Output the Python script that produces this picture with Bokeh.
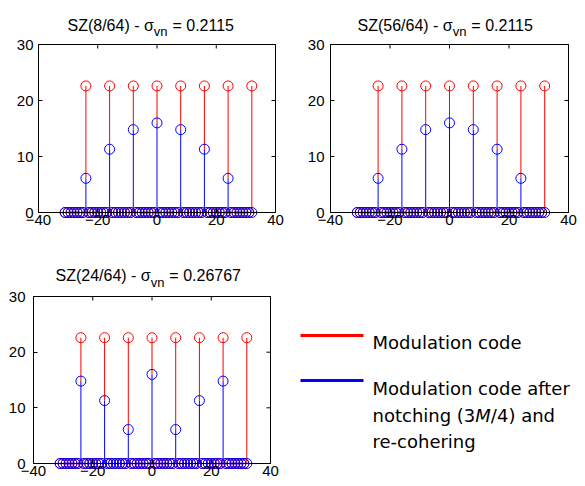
from bokeh.plotting import figure
from bokeh.models import Range1d, LinearAxis, FixedTicker, Label
from bokeh.layouts import row, column
from bokeh.embed import file_html
from bokeh.resources import INLINE

# ---------------- data ----------------
sample_index = list(range(-31, 33))            # sample number n
code_positions = [-24, -16, -8, 0, 8, 16, 24, 32]
code_level = [22.6, 22.6, 22.6, 22.6, 22.6, 22.6, 22.6, 22.6]
notched_8_64 = [6.1, 11.3, 14.8, 16.0, 14.8, 11.3, 6.1, 0.0]
notched_56_64 = [6.1, 11.3, 14.8, 16.0, 14.8, 11.3, 6.1, 0.0]
notched_24_64 = [14.8, 11.3, 6.1, 16.0, 6.1, 11.3, 14.8, 0.0]
title_parts = [
    ("SZ(8/64) - σ", "vn", "= 0.2115"),
    ("SZ(56/64) - σ", "vn", "= 0.2115"),
    ("SZ(24/64) - σ", "vn", "= 0.26767"),
]
x_limits = (-40, 40)
y_limits = (0, 30)
x_ticks = [-40, -20, 0, 20, 40]
y_ticks = [0, 10, 20, 30]
legend_first = "Modulation code"
legend_second = ["Modulation code after", ("notching (3", "M", "/4) and"), "re-cohering"]

RED = "#ff0000"
BLUE = "#0000ff"
TICK_FONT = "Liberation Sans"

# Arial/Liberation Sans advance widths (em) for title layout
ADV = {"S": .667, "Z": .611, "(": .333, ")": .333, "/": .278, " ": .278, "-": .333,
       "=": .584, ".": .278, "v": .5, "n": .556, "σ": .58}


def text_width(s, size):
    return sum(ADV.get(c, .556) for c in s) * size


def full_series(values):
    m = dict(zip(code_positions, values))
    return [m.get(n, 0.0) for n in sample_index]


def style_axis(ax, ticks, standoff):
    ax.ticker = FixedTicker(ticks=ticks)
    ax.major_tick_in = 4
    ax.major_tick_out = 0
    ax.minor_tick_in = 0
    ax.minor_tick_out = 0
    ax.axis_line_color = "black"
    ax.axis_line_width = 1
    ax.major_tick_line_color = "black"
    ax.major_label_text_color = "black"
    ax.major_label_text_font = TICK_FONT
    ax.major_label_text_font_size = "15px"
    ax.major_label_standoff = standoff


def make_panel(parts, notched, W, H, box, title_dx, title_dy, sub_dy, ylab_standoff):
    # box = (left, right, top, bottom) of the axes box, in pixels inside the figure
    L, R, T, B = box
    x0, x1 = x_limits
    y0, y1 = y_limits
    ppx = (R - L) / (x1 - x0)
    ppy = (B - T) / (y1 - y0)
    xr = Range1d(x0 - L / ppx, x1 + (W - R) / ppx)
    yr = Range1d(y0 - (H - B) / ppy, y1 + T / ppy)
    p = figure(width=W, height=H, x_range=xr, y_range=yr,
               output_backend="svg", toolbar_location=None,
               x_axis_location=None, y_axis_location=None,
               min_border=0, min_border_left=0, min_border_right=0,
               min_border_top=0, min_border_bottom=0)
    p.xgrid.visible = False
    p.ygrid.visible = False
    p.outline_line_color = None
    p.background_fill_color = "white"
    p.border_fill_color = "white"

    # box axes: bottom and left with labels, top and right edges with inward ticks
    xb = LinearAxis(fixed_location=y0, bounds=(x0, x1))
    style_axis(xb, x_ticks, 2)
    p.add_layout(xb, "below")
    yl = LinearAxis(fixed_location=x0, bounds=(y0, y1))
    style_axis(yl, y_ticks, ylab_standoff)
    p.add_layout(yl, "left")

    tick_len = 4
    p.segment(x0=[x0], y0=[y1], x1=[x1], y1=[y1], line_color="black", line_width=1)
    p.segment(x0=[x1], y0=[y0], x1=[x1], y1=[y1], line_color="black", line_width=1)
    p.segment(x0=x_ticks, y0=[y1] * len(x_ticks), x1=x_ticks,
              y1=[y1 - tick_len / ppy] * len(x_ticks), line_color="black", line_width=1)
    p.segment(x0=[x1] * len(y_ticks), y0=y_ticks, x1=[x1 - tick_len / ppx] * len(y_ticks),
              y1=y_ticks, line_color="black", line_width=1)

    # stems
    red = full_series(code_level)
    blue = full_series(notched)
    zeros = [0] * len(sample_index)
    p.segment(x0=sample_index, y0=blue, x1=sample_index, y1=red, line_color=RED, line_width=1)
    p.scatter(sample_index, red, marker="circle", size=10, fill_color=None,
              line_color=RED, line_width=1)
    p.segment(x0=sample_index, y0=zeros, x1=sample_index, y1=blue, line_color=BLUE, line_width=1)
    p.scatter(sample_index, blue, marker="circle", size=10, fill_color=None,
              line_color=BLUE, line_width=1)

    # title with subscript
    main, sub, rest = parts
    w_main = text_width(main, 16)
    w_sub = text_width(sub, 13)
    common = dict(x=x0, y=y1, text_font=TICK_FONT, text_color="black",
                  text_font_style="normal", text_baseline="alphabetic", text_align="left")
    p.add_layout(Label(text=main, x_offset=title_dx, y_offset=title_dy, text_font_size="16px", **common))
    p.add_layout(Label(text=sub, x_offset=title_dx + w_main + 0.5, y_offset=sub_dy,
                       text_font_size="13px", **common))
    p.add_layout(Label(text=rest, x_offset=title_dx + w_main + w_sub + 5.5, y_offset=title_dy,
                       text_font_size="16px", **common))
    return p


p1 = make_panel(title_parts[0], notched_8_64, 290, 240, (38, 275, 44, 212),
                title_dx=29, title_dy=19, sub_dy=13, ylab_standoff=5)
p2 = make_panel(title_parts[1], notched_56_64, 294, 240, (40, 278, 44, 212),
                title_dx=27, title_dy=19, sub_dy=13, ylab_standoff=6)
p3 = make_panel(title_parts[2], notched_24_64, 290, 244, (33, 270, 56, 223),
                title_dx=22, title_dy=21, sub_dy=14, ylab_standoff=8)

# ---------------- legend panel ----------------
LW, LH = 294, 244
lg = figure(width=LW, height=LH, x_range=Range1d(0, LW), y_range=Range1d(LH, 0),
            output_backend="svg", toolbar_location=None,
            x_axis_location=None, y_axis_location=None,
            min_border=0, min_border_left=0, min_border_right=0,
            min_border_top=0, min_border_bottom=0)
lg.xgrid.visible = False
lg.ygrid.visible = False
lg.outline_line_color = None
lg.background_fill_color = "white"
lg.border_fill_color = "white"

lg.segment(x0=[10], y0=[95], x1=[73], y1=[95], line_color=RED, line_width=3)
lg.segment(x0=[10], y0=[140], x1=[73], y1=[140], line_color=BLUE, line_width=3)

LFONT = "DejaVu Sans"
lcommon = dict(text_font=LFONT, text_font_size="18px", text_color="black",
               text_baseline="alphabetic", text_align="left")
lg.add_layout(Label(x=82, y=102, text=legend_first, **lcommon))
lg.add_layout(Label(x=82, y=148, text=legend_second[0], **lcommon))
a, m, b = legend_second[1]
w_a = 5.713 * 18
lg.add_layout(Label(x=82, y=175, text=a, **lcommon))
lg.add_layout(Label(x=82 + w_a, y=175, text=m, text_font_style="italic", **lcommon))
lg.add_layout(Label(x=82 + w_a + 0.863 * 18, y=175, text=b, **lcommon))
lg.add_layout(Label(x=82, y=201, text=legend_second[2], **lcommon))

layout = column(row(p1, p2), row(p3, lg))

with open("out.html", "w") as f:
    f.write(file_html(layout, INLINE))
